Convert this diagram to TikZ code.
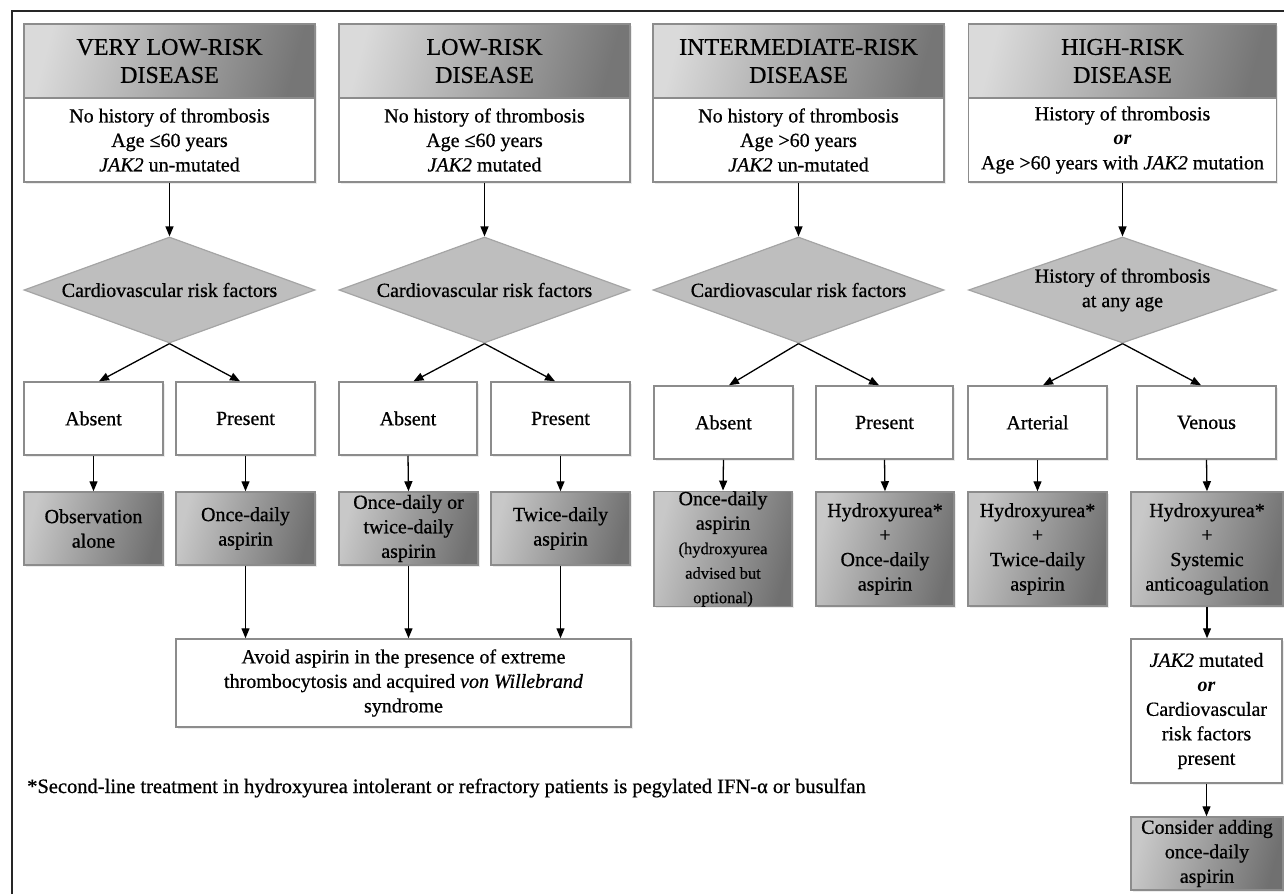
\documentclass[tikz,border=0pt]{standalone}
\usepackage{fontspec}
\setmainfont{Liberation Serif}[UprightFeatures={FakeBold=0.7},ItalicFeatures={FakeBold=0.7}]
\usetikzlibrary{arrows.meta,shapes.geometric,shadows}
\definecolor{bordergray}{RGB}{140,140,140}
\definecolor{diafill}{RGB}{190,190,190}
\definecolor{diaborder}{RGB}{165,165,165}
\definecolor{hdrL}{RGB}{218,218,218}
\definecolor{hdrR}{RGB}{118,118,118}
\definecolor{trL}{RGB}{200,200,200}
\definecolor{trR}{RGB}{112,112,112}
\newcommand{\smtxt}{\fontsize{16.5}{19}\selectfont}
\begin{document}
\begin{tikzpicture}[x=1pt,y=-1pt,
  base/.style={draw=bordergray, line width=1.5pt, inner sep=0pt, align=center,
    font=\fontsize{20}{24.5}\selectfont,
    drop shadow={shadow xshift=1.5pt,shadow yshift=-1.5pt,opacity=0.15}},
  wbox/.style={base, fill=white},
  hdrbox/.style={base, left color=hdrL, right color=hdrR, shading angle=75,
    font=\fontsize{24}{28}\selectfont},
  trbox/.style={base, left color=trL, right color=trR, shading angle=75},
  dia/.style={diamond, draw=diaborder, fill=diafill, line width=1.2pt, inner sep=0pt},
  dtext/.style={inner sep=0pt, align=center, font=\fontsize{20}{24.5}\selectfont},
  arr/.style={-{Triangle[length=10pt,width=8pt]}, line width=1.3pt, black}
]
\useasboundingbox (0,0) rectangle (1284,894);
\fill[white] (0,0) rectangle (1284,894);
\draw[line width=1.5pt, black!85] (12,894) -- (12,11) -- (1284,11);

% headers
\node[hdrbox, minimum width=291, minimum height=74] (h1) at (169.5,61) {VERY LOW-RISK\\DISEASE};
\node[hdrbox, minimum width=291, minimum height=74] (h2) at (484.5,61) {LOW-RISK\\DISEASE};
\node[hdrbox, minimum width=291, minimum height=74] (h3) at (798.5,61) {INTERMEDIATE-RISK\\DISEASE};
\node[hdrbox, minimum width=308, minimum height=74] (h4) at (1122.5,61) {HIGH-RISK\\DISEASE};

% criteria
\node[wbox, minimum width=291, minimum height=84] (b1) at (169.5,140) {No history of thrombosis\\Age ≤60 years\\\textit{JAK2} un-mutated};
\node[wbox, minimum width=291, minimum height=84] (b2) at (484.5,140) {No history of thrombosis\\Age ≤60 years\\\textit{JAK2} mutated};
\node[wbox, minimum width=291, minimum height=84] (b3) at (798.5,140) {No history of thrombosis\\Age >60 years\\\textit{JAK2} un-mutated};
\node[wbox, minimum width=308, minimum height=84] (b4) at (1122.5,140) {History of thrombosis\\\textbf{\textit{or}}\\Age >60 years with \textit{JAK2} mutation};

% diamonds
\node[dia, minimum width=291, minimum height=106] (d1) at (169.5,290) {};
\node[dia, minimum width=291, minimum height=106] (d2) at (484.5,290) {};
\node[dia, minimum width=291, minimum height=106] (d3) at (798.5,290) {};
\node[dia, minimum width=308, minimum height=106] (d4) at (1122.5,290) {};
\node[dtext] (d1t) at (d1) {Cardiovascular risk factors};
\node[dtext] (d2t) at (d2) {Cardiovascular risk factors};
\node[dtext] (d3t) at (d3) {Cardiovascular risk factors};
\node[dtext] (d4t) at (d4) {History of thrombosis\\at any age};

% sub boxes
\node[wbox, minimum width=139, minimum height=73] (a1) at (93.5,418.5) {Absent};
\node[wbox, minimum width=139, minimum height=73] (p1) at (245.5,418.5) {Present};
\node[wbox, minimum width=138, minimum height=73] (a2) at (408,418.5) {Absent};
\node[wbox, minimum width=139, minimum height=73] (p2) at (560.5,418.5) {Present};
\node[wbox, minimum width=139, minimum height=73] (a3) at (723.5,422.5) {Absent};
\node[wbox, minimum width=137, minimum height=73] (p3) at (884.5,422.5) {Present};
\node[wbox, minimum width=139, minimum height=73] (ar) at (1037.5,422.5) {Arterial};
\node[wbox, minimum width=139, minimum height=73] (ve) at (1206.5,422.5) {Venous};

% treatments
\node[trbox, minimum width=139, minimum height=73] (t1a) at (93.5,528.5) {Observation\\alone};
\node[trbox, minimum width=139, minimum height=73] (t1b) at (245.5,528.5) {Once-daily\\aspirin};
\node[trbox, minimum width=139, minimum height=73] (t2a) at (408.5,528.5) {Once-daily or\\twice-daily\\aspirin};
\node[trbox, minimum width=139, minimum height=73] (t2b) at (560.5,528.5) {Twice-daily\\aspirin};
\node[trbox, minimum width=138, minimum height=114] (t3a) at (723,549) {Once-daily\\aspirin\\\smtxt (hydroxyurea\\\smtxt advised but\\\smtxt optional)};
\node[trbox, minimum width=138, minimum height=114] (t3b) at (885,549) {Hydroxyurea*\\+\\Once-daily\\aspirin};
\node[trbox, minimum width=139, minimum height=114] (t4a) at (1037.5,549) {Hydroxyurea*\\+\\Twice-daily\\aspirin};
\node[trbox, minimum width=152, minimum height=114] (t4b) at (1207,549) {Hydroxyurea*\\+\\Systemic\\anticoagulation};

% lower boxes
\node[wbox, minimum width=455, minimum height=88] (av) at (403.5,683) {Avoid aspirin in the presence of extreme\\thrombocytosis and acquired \textit{von Willebrand}\\syndrome};
\node[wbox, minimum width=151, minimum height=144] (jk) at (1206.5,711) {\textit{JAK2} mutated\\\textbf{\textit{or}}\\Cardiovascular\\risk factors\\present};
\node[trbox, minimum width=152, minimum height=73] (cs) at (1207,853.5) {Consider adding\\once-daily\\aspirin};

% footnote
\node[anchor=west, inner sep=0pt, font=\fontsize{20.5}{24}\selectfont] (fn) at (27,788) {*Second-line treatment in hydroxyurea intolerant or refractory patients is pegylated IFN-α or busulfan};

% connectors
\foreach \i in {1,2,3,4} {\draw[arr] (b\i.south) -- (d\i.north);}
\draw[arr] (d1.south) -- ([xshift=5.5pt]a1.north);
\draw[arr] (d1.south) -- ([xshift=-5.5pt]p1.north);
\draw[arr] (d2.south) -- ([xshift=5.5pt]a2.north);
\draw[arr] (d2.south) -- ([xshift=-5.5pt]p2.north);
\draw[arr] (d3.south) -- ([xshift=5.5pt]a3.north);
\draw[arr] (d3.south) -- ([xshift=-5.5pt]p3.north);
\draw[arr] (d4.south) -- ([xshift=5.5pt]ar.north);
\draw[arr] (d4.south) -- ([xshift=-5.5pt]ve.north);
\draw[arr] (a1.south) -- (t1a.north);
\draw[arr] (p1.south) -- (t1b.north);
\draw[arr] (a2.south) -- (t2a.north);
\draw[arr] (p2.south) -- (t2b.north);
\draw[arr] (a3.south) -- (t3a.north);
\draw[arr] (p3.south) -- (t3b.north);
\draw[arr] (ar.south) -- (t4a.north);
\draw[arr] (ve.south) -- (t4b.north);
\draw[arr] (t1b.south) -- (t1b.south |- av.north);
\draw[arr] (t2a.south) -- (t2a.south |- av.north);
\draw[arr] (t2b.south) -- (t2b.south |- av.north);
\draw[arr] (t4b.south) -- (t4b.south |- jk.north);
\draw[arr] (jk.south) -- (jk.south |- cs.north);
\end{tikzpicture}
\end{document}
